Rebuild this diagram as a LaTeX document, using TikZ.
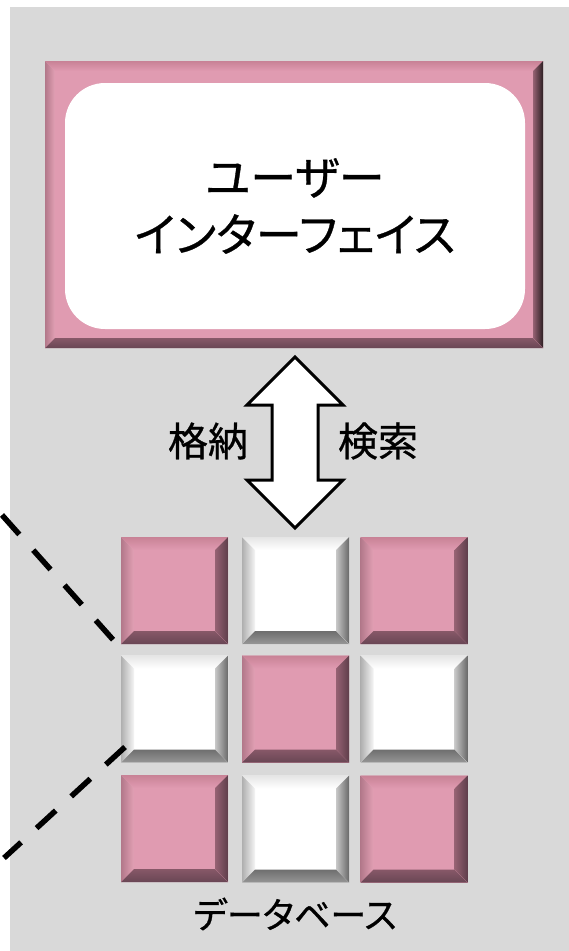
\documentclass[tikz,border=0pt]{standalone}
\usepackage{fontspec}
\newfontfamily\jp[RawFeature=+palt, FakeBold=0.7]{Noto Sans CJK JP}
\usetikzlibrary{calc}
\definecolor{bg}{RGB}{217,217,217}
\definecolor{pk}{RGB}{224,155,177}
\definecolor{pkEdge}{RGB}{200,130,150}
\definecolor{pkHi}{RGB}{255,200,220}
\definecolor{pkLeftA}{RGB}{178,120,138}
\definecolor{pkLeftB}{RGB}{226,160,180}
\definecolor{pkRightA}{RGB}{150,98,115}
\definecolor{pkRightB}{RGB}{95,62,75}
\definecolor{pkBotA}{RGB}{135,88,104}
\definecolor{pkBotB}{RGB}{105,70,84}
\definecolor{wLeftA}{RGB}{175,175,175}
\definecolor{wLeftB}{RGB}{245,245,245}
\definecolor{wRightA}{RGB}{200,200,200}
\definecolor{wRightB}{RGB}{105,105,105}
\definecolor{wBotA}{RGB}{110,110,110}
\definecolor{wBotB}{RGB}{150,150,150}
\newcommand\bevpaint[5]{%
  \coordinate (bNW) at (path picture bounding box.north west);
  \coordinate (bNE) at (path picture bounding box.north east);
  \coordinate (bSW) at (path picture bounding box.south west);
  \coordinate (bSE) at (path picture bounding box.south east);
  \fill[#2] (bNW) -- (bNE) -- ([shift={(-#1,-#1)}]bNE) -- ([shift={(#1,-#1)}]bNW) -- cycle;
  \fill[#3] (bNW) -- ([shift={(#1,-#1)}]bNW) -- ([shift={(#1,#1)}]bSW) -- (bSW) -- cycle;
  \fill[#4] (bNE) -- ([shift={(-#1,-#1)}]bNE) -- ([shift={(-#1,#1)}]bSE) -- (bSE) -- cycle;
  \fill[#5] (bSW) -- ([shift={(#1,#1)}]bSW) -- ([shift={(-#1,#1)}]bSE) -- (bSE) -- cycle;
}
\tikzset{
  x=1pt, y=-1pt,
  tile/.style={inner sep=0pt, outer sep=0pt, minimum width=107pt, minimum height=107pt},
  pinktile/.style={tile, fill=pk, path picture={\bevpaint{13pt}
      {top color=pkEdge, middle color=pkHi, bottom color=pk}
      {left color=pkLeftA, right color=pkLeftB}
      {left color=pkRightA, right color=pkRightB}
      {top color=pkBotA, bottom color=pkBotB}}},
  whitetile/.style={tile, fill=white, path picture={\bevpaint{13pt}
      {top color=white!90!black, middle color=white, bottom color=white}
      {left color=wLeftA, right color=wLeftB}
      {left color=wRightA, right color=wRightB}
      {top color=wBotA, bottom color=wBotB}}},
  frame/.style={inner sep=0pt, outer sep=0pt, fill=pk, path picture={\bevpaint{10pt}
      {top color=pkEdge, middle color=pkHi, bottom color=pk}
      {left color=pkLeftA, right color=pkLeftB}
      {left color=pkRightA, right color=black!80!pk}
      {top color=pkBotA, bottom color=pkBotB}}},
  inner/.style={inner sep=0pt, outer sep=0pt, fill=white, rounded corners=40pt},
  lbl/.style={inner sep=0pt, font=\jp\fontsize{40}{48}\selectfont},
  dashline/.style={line width=5.5pt, dash pattern=on 26pt off 21pt},
  bigarrow/.style={draw=black, fill=white, line width=3pt, miter limit=10}
}
\begin{document}
\begin{tikzpicture}
\useasboundingbox (0,0) rectangle (569,951);
\fill[white] (0,0) rectangle (569,951);
\fill[bg] (10,7) rectangle (569,951);

% user interface frame
\node[frame, minimum width=498pt, minimum height=287pt] (ui) at (294,204.5) {};
\node[inner, minimum width=460pt, minimum height=246pt, align=center,
      font=\jp\fontsize{46}{57}\selectfont] (uit) at (295,206) {ユーザー\\インターフェイス};

% double arrow
\coordinate (atop) at (295,357);
\coordinate (abot) at (295,528);
\draw[bigarrow] (atop) -- (343,405) -- (318,405) -- (318,480) -- (343,480) -- (abot)
  -- (247,480) -- (272,480) -- (272,405) -- (247,405) -- cycle;
\node[lbl] (store) at (208,441) {格納};
\node[lbl] (search) at (378,441) {検索};

% database tiles
\node[pinktile]  (s11) at (174.5,590.5) {};
\node[whitetile] (s12) at (295.5,590.5) {};
\node[pinktile]  (s13) at (414,590.5) {};
\node[whitetile] (s21) at (174.5,709) {};
\node[pinktile]  (s22) at (295.5,709) {};
\node[whitetile] (s23) at (414,709) {};
\node[pinktile]  (s31) at (174.5,828.5) {};
\node[whitetile] (s32) at (295.5,829) {};
\node[pinktile]  (s33) at (414,829) {};
\node[inner sep=0pt, font=\jp\fontsize{36}{42}\selectfont] (db) at (295,914) {データベース};

% dashed cut lines
\coordinate (d1a) at (2,515);
\coordinate (d1b) at (116,643);
\coordinate (d2a) at (125,747);
\coordinate (d2b) at (4,858);
\draw[dashline] (d1a) -- (d1b);
\draw[dashline] (d2a) -- (d2b);
\end{tikzpicture}
\end{document}
